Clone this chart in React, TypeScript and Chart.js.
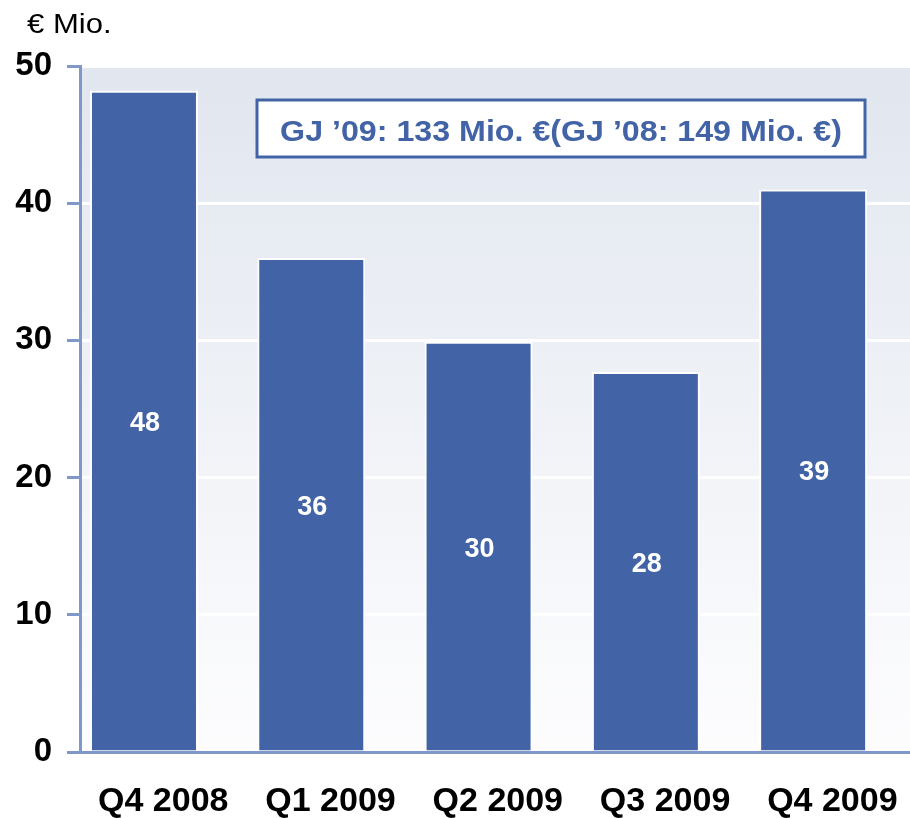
import React, { useEffect, useRef } from "react";
import { Chart, registerables } from "chart.js";

Chart.register(...registerables);

const categories = ["Q4 2008", "Q1 2009", "Q2 2009", "Q3 2009", "Q4 2009"];
const barValues = [48.2, 36.0, 29.9, 27.7, 41.0];
const barLabels = ["48", "36", "30", "28", "39"];
const yTicks = [0, 10, 20, 30, 40, 50];
const unitLabel = "€ Mio.";
const noteText = "GJ ’09: 133 Mio. €(GJ ’08: 149 Mio. €)";

const BAR_BLUE = "#4264a6";
const AXIS_BLUE = "#7f97c9";
const FONT = '"Liberation Sans", Arial, sans-serif';
const LABEL_SHIFT = 0.115;

export default function App() {
  const ref = useRef<HTMLCanvasElement | null>(null);

  useEffect(() => {
    if (!ref.current) return;

    const decor = {
      id: "decor",
      beforeDraw(chart: any) {
        const { ctx, chartArea } = chart;
        const top = chartArea.top + 2;
        const g = ctx.createLinearGradient(0, top, 0, chartArea.bottom);
        g.addColorStop(0, "#e1e6ef");
        g.addColorStop(1, "#fdfdfe");
        ctx.save();
        ctx.fillStyle = g;
        ctx.fillRect(chartArea.left, top, chartArea.right - chartArea.left, chartArea.bottom - top);
        ctx.restore();
      },
      afterDatasetsDraw(chart: any) {
        const { ctx, chartArea } = chart;
        const meta = chart.getDatasetMeta(0);
        ctx.save();
        ctx.fillStyle = "#ffffff";
        ctx.font = `bold 27px ${FONT}`;
        ctx.textAlign = "center";
        ctx.textBaseline = "middle";
        meta.data.forEach((el: any, i: number) => {
          ctx.fillText(barLabels[i], el.x + 1, (el.y + el.base) / 2 + 3);
        });
        // note box
        const bx = chartArea.left + 177;
        const by = chartArea.top + 34;
        const bw = 608;
        const bh = 57;
        ctx.fillStyle = "#ffffff";
        ctx.fillRect(bx, by, bw, bh);
        ctx.strokeStyle = BAR_BLUE;
        ctx.lineWidth = 3;
        ctx.strokeRect(bx, by, bw, bh);
        ctx.fillStyle = BAR_BLUE;
        ctx.font = `bold 29px ${FONT}`;
        ctx.textAlign = "center";
        ctx.textBaseline = "alphabetic";
        ctx.translate(bx + bw / 2, by + 41);
        ctx.scale(1.11, 1);
        ctx.fillText(noteText, 0, 0);
        ctx.restore();
        // unit label
        ctx.save();
        ctx.fillStyle = "#000000";
        ctx.font = `27px ${FONT}`;
        ctx.textAlign = "left";
        ctx.textBaseline = "alphabetic";
        ctx.translate(27, 33);
        ctx.scale(1.15, 1);
        ctx.fillText(unitLabel, 0, 0);
        ctx.restore();
      },
    };

    const chart = new Chart(ref.current, {
      type: "bar",
      data: {
        datasets: [
          {
            data: barValues.map((v, i) => ({ x: i, y: v })),
            backgroundColor: BAR_BLUE,
            borderColor: "#ffffff",
            borderWidth: 2,
            categoryPercentage: 1,
            barPercentage: 0.6455,
          },
        ],
      },
      options: {
        animation: false,
        responsive: true,
        maintainAspectRatio: false,
        layout: { padding: { top: 66, left: 0, right: 0, bottom: 0 } },
        plugins: {
          legend: { display: false },
          tooltip: { enabled: false },
          title: { display: false },
        },
        scales: {
          x: {
            type: "linear",
            min: -0.3825,
            max: 4.579,
            z: 1,
            offset: false,
            grid: { display: false, drawTicks: false },
            border: { display: true, color: AXIS_BLUE, width: 3 },
            afterBuildTicks: (scale: any) => {
              scale.ticks = categories.map((_, i) => ({ value: i + LABEL_SHIFT }));
            },
            afterFit: (scale: any) => {
              scale.height = 66;
              scale.paddingLeft = 0;
              scale.paddingRight = 0;
            },
            ticks: {
              autoSkip: false,
              maxRotation: 0,
              padding: 29,
              color: "#000000",
              font: { family: FONT, size: 34, weight: "bold" },
              callback: (v: any) => categories[Math.round(Number(v) - LABEL_SHIFT)] ?? "",
            },
          },
          y: {
            min: 0,
            max: 50,
            afterBuildTicks: (scale: any) => {
              scale.ticks = yTicks.map((v) => ({ value: v }));
            },
            afterFit: (scale: any) => {
              scale.width = 80;
              scale.paddingTop = 0;
              scale.paddingBottom = 0;
            },
            grid: {
              color: "#ffffff",
              lineWidth: 3,
              drawTicks: true,
              tickLength: 13,
              tickColor: AXIS_BLUE,
              tickWidth: 3,
            },
            border: { display: true, color: AXIS_BLUE, width: 3 },
            ticks: {
              padding: 15,
              color: "#000000",
              font: { family: FONT, size: 33, weight: "bold" },
              callback: (v: any) => String(v),
            },
          },
        },
      },
      plugins: [decor],
    } as any);

    return () => chart.destroy();
  }, []);

  return (
    <div style={{ position: "fixed", left: 0, top: 0, width: 910, height: 818, background: "#ffffff" }}>
      <canvas ref={ref} />
    </div>
  );
}
